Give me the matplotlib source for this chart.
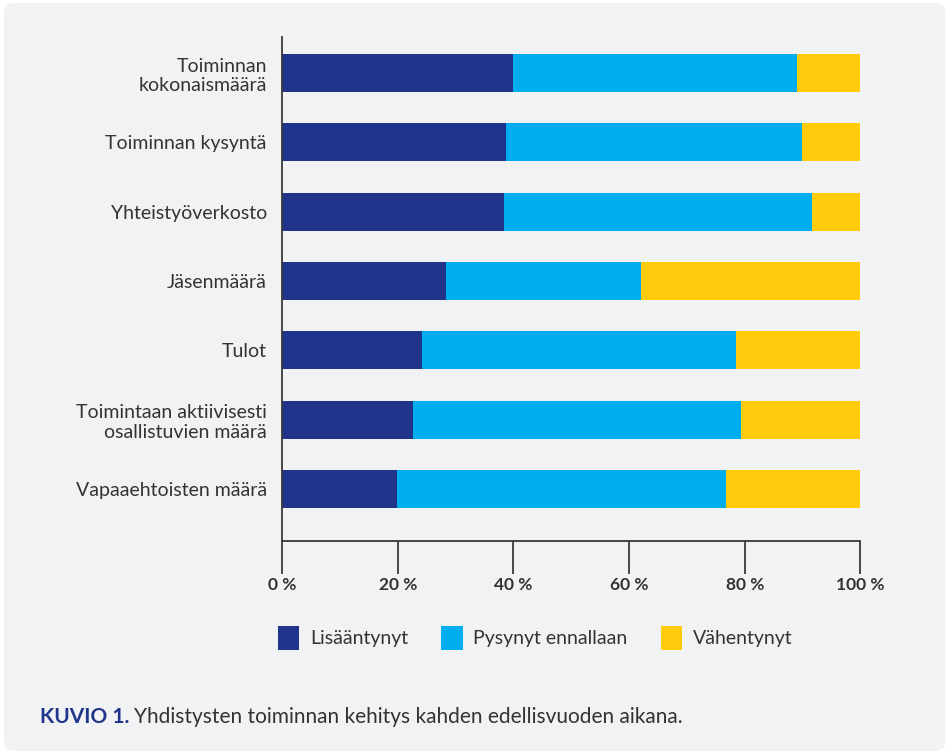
import matplotlib
matplotlib.use("Agg")
import matplotlib.pyplot as plt
from matplotlib.patches import FancyBboxPatch
import numpy as np

categories = ["Toiminnan\nkokonaismäärä", "Toiminnan kysyntä", "Yhteistyöverkosto",
              "Jäsenmäärä", "Tulot", "Toimintaan aktiivisesti\nosallistuvien määrä",
              "Vapaaehtoisten määrä"]
series_names = ["Lisääntynyt", "Pysynyt ennallaan", "Vähentynyt"]
lisaantynyt = [39.9, 38.7, 38.4, 28.3, 24.2, 22.6, 19.9]
pysynyt = [49.1, 51.2, 53.2, 33.8, 54.3, 56.7, 56.8]
vahentynyt = [11.0, 10.1, 8.4, 37.9, 21.5, 20.7, 23.2]
xticks = [0, 20, 40, 60, 80, 100]
xticklabels = ["0 %", "20 %", "40 %", "60 %", "80 %", "100 %"]

colors = ["#1f348a", "#00aeef", "#ffcb0a"]
bg = "#f1f2f4"
txt = "#333333"
plt.rcParams['font.family'] = ['Lato', 'DejaVu Sans']

fig = plt.figure(figsize=(9.49, 7.54), dpi=100)
fig.patch.set_facecolor("white")
panel = FancyBboxPatch((0.004, 0.004), 0.992, 0.992, boxstyle="round,pad=0,rounding_size=0.012",
                       transform=fig.transFigure, facecolor=bg, edgecolor="none", zorder=-10)
fig.patches.append(panel)

ax = fig.add_axes([0.2972, 0.2825, 0.9067 - 0.2972, 0.9509 - 0.2825])
ax.set_facecolor("none")
y = np.arange(len(categories))
left = np.zeros(len(categories))
for vals, c, name in zip([lisaantynyt, pysynyt, vahentynyt], colors, series_names):
    ax.barh(y, vals, left=left, height=0.55, color=c, label=name, linewidth=0)
    left = left + np.array(vals)

ax.set_xlim(0, 100)
ax.set_ylim(6.75, -0.52)
ax.set_yticks(y)
ax.set_yticklabels(categories, fontsize=14, color=txt, linespacing=1.2)
ax.tick_params(axis='y', length=0, pad=11)
ax.set_xticks(xticks)
ax.set_xticklabels(xticklabels, fontsize=12.5, fontweight='bold', color=txt)
ax.tick_params(axis='x', length=24, width=1.3, color="#3a3a3a", pad=2)
for s in ["top", "right"]:
    ax.spines[s].set_visible(False)
for s in ["left", "bottom"]:
    ax.spines[s].set_color("#3a3a3a")
    ax.spines[s].set_linewidth(1.3)

# legend
handles, labels = ax.get_legend_handles_labels()
leg = fig.legend(handles, labels, loc="center", bbox_to_anchor=(0.564, 1 - 638 / 754), ncol=3,
                 frameon=False, fontsize=14, handlelength=1.1, handleheight=1.6,
                 columnspacing=1.7, handletextpad=0.55, labelcolor=txt)

t1 = fig.text(40 / 949, 1 - 717 / 754, "KUVIO 1.", fontsize=15, fontweight='bold', color="#1f348a",
              va="center", ha="left")
fig.canvas.draw()
bb = t1.get_window_extent(fig.canvas.get_renderer())
x2 = (bb.x1 + 5) / fig.bbox.width
fig.text(x2, 1 - 717 / 754, "Yhdistysten toiminnan kehitys kahden edellisvuoden aikana.",
         fontsize=15, color=txt, va="center", ha="left")

fig.savefig("out.png", dpi=100, facecolor=fig.get_facecolor())
